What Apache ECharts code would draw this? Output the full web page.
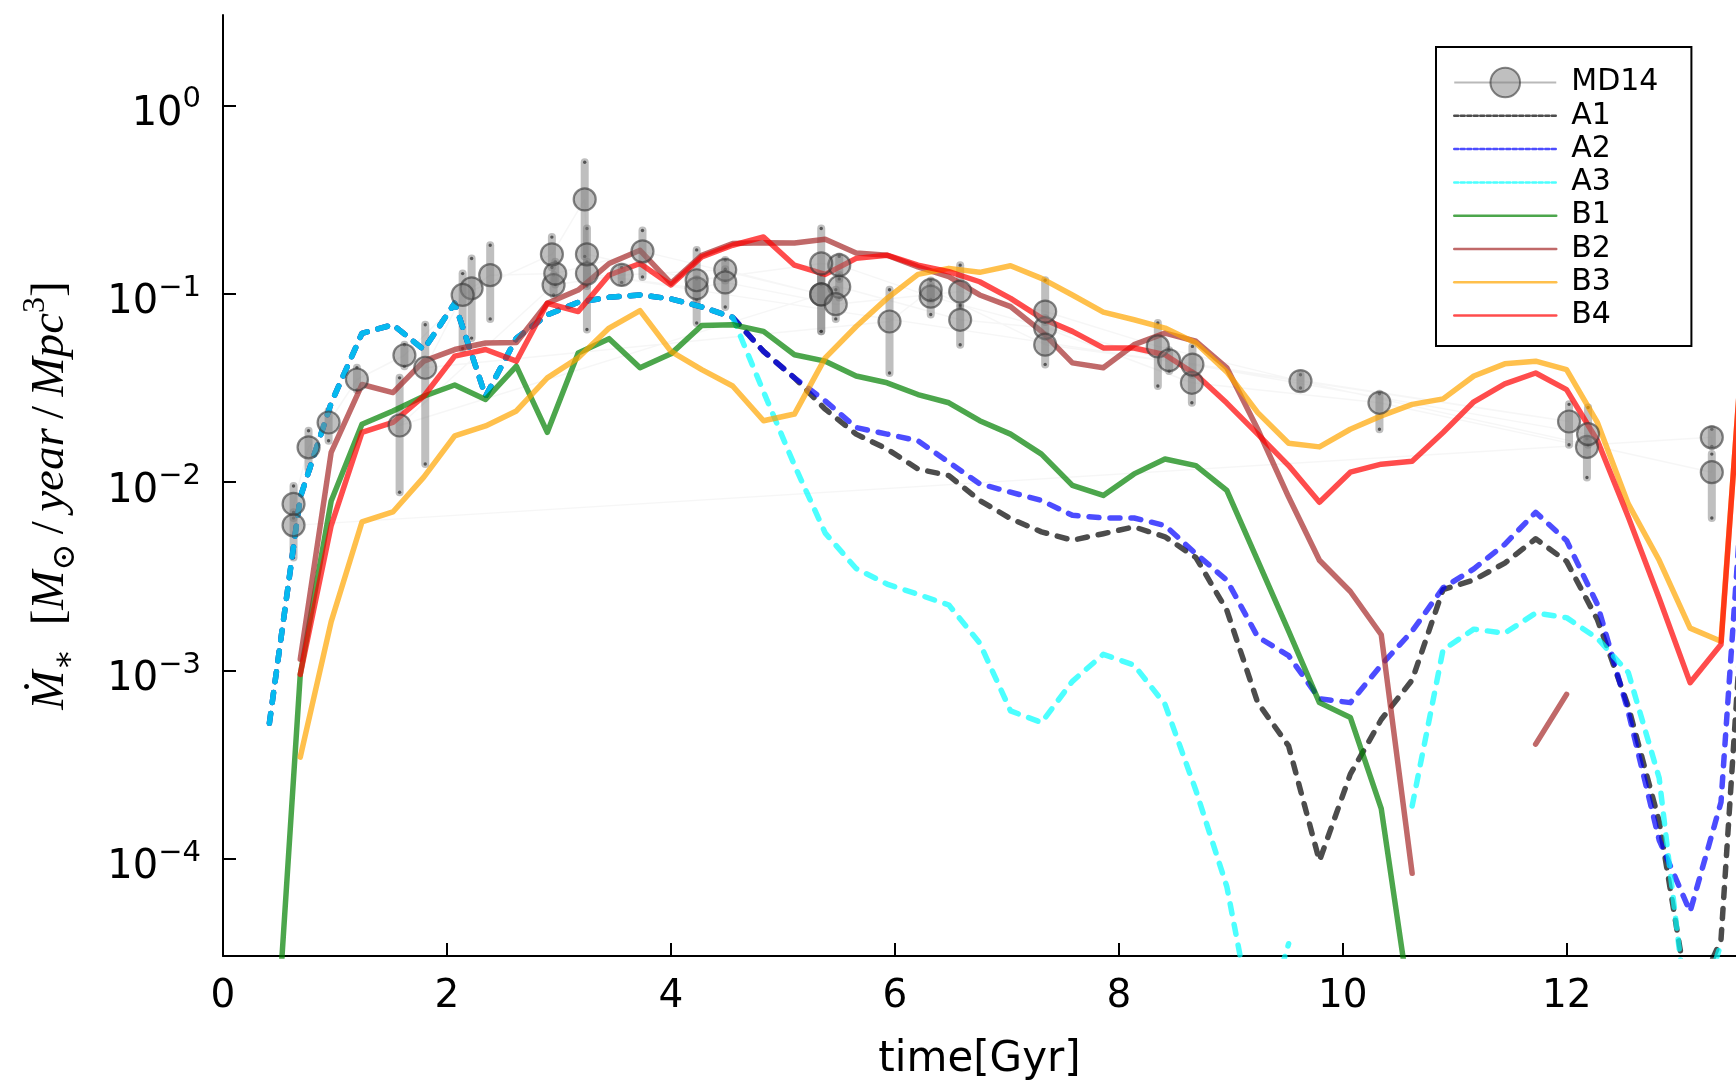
<!DOCTYPE html>
<html>
<head>
<meta charset="utf-8">
<script src="https://cdn.jsdelivr.net/npm/echarts@6/dist/echarts.min.js"></script>
<style>
  html, body { margin: 0; padding: 0; background: #ffffff; }
  #chart { width: 1736px; height: 1086px; }
</style>
</head>
<body>
<div id="chart"></div>
<script>
// Snapshot times of the simulation outputs [Gyr]
const times = [0.414, 0.690, 0.966, 1.241, 1.517, 1.793, 2.069, 2.345, 2.620, 2.896,
  3.172, 3.448, 3.724, 4.000, 4.275, 4.551, 4.827, 5.103, 5.378, 5.654,
  5.930, 6.206, 6.482, 6.757, 7.033, 7.309, 7.585, 7.861, 8.136, 8.412,
  8.688, 8.964, 9.240, 9.516, 9.791, 10.067, 10.343, 10.619, 10.895, 11.170,
  11.446, 11.722, 11.998, 12.274, 12.549, 12.825, 13.101, 13.377, 13.653];

// Star formation rate density per model [Msun / yr / Mpc^3]; null = no star formation
const rateA1 = [0.000525, 0.00832, 0.0263, 0.0617, 0.0685, 0.0506, 0.0891, 0.0286, 0.0582, 0.0773,
  0.0902, 0.0959, 0.0986, 0.0940, 0.0853, 0.0750, 0.0495, 0.0358, 0.0244, 0.0180,
  0.0150, 0.01175, 0.01084, 0.0080, 0.00641, 0.00545, 0.00492, 0.00533, 0.00579, 0.00513,
  0.00398, 0.00209, 0.000676, 0.000398, 0.0000977, 0.000282, 0.000550, 0.000891, 0.00269, 0.00303,
  0.00372, 0.00501, 0.0038, 0.00186, 0.000646, 0.000158, 0.0000158, 0.0000372, 0.0126];
const rateA2 = [0.000525, 0.00832, 0.0263, 0.0617, 0.0685, 0.0506, 0.0891, 0.0286, 0.0582, 0.0773,
  0.0902, 0.0959, 0.0986, 0.0940, 0.0853, 0.0750, 0.0495, 0.0358, 0.0270, 0.0195,
  0.0180, 0.0166, 0.01276, 0.0098, 0.00885, 0.0080, 0.00667, 0.00646, 0.00646, 0.00589,
  0.00417, 0.00302, 0.00151, 0.00120, 0.000708, 0.000676, 0.00107, 0.00162, 0.00275, 0.00347,
  0.00468, 0.00692, 0.0049, 0.00224, 0.000603, 0.000126, 0.0000525, 0.000200, 0.0501];
const rateA3 = [0.000525, 0.00832, 0.0263, 0.0617, 0.0685, 0.0506, 0.0891, 0.0286, 0.0582, 0.0773,
  0.0902, 0.0959, 0.0986, 0.0940, 0.0853, 0.0750, 0.0302, 0.0123, 0.00537, 0.00348,
  0.00288, 0.00254, 0.00223, 0.0014, 0.000611, 0.00053, 0.000877, 0.00122, 0.00107, 0.000662,
  0.000231, 0.0000714, 0.00001, 0.0000355, null, null, null, 0.000191, 0.00129, 0.00166,
  0.00158, 0.00202, 0.00191, 0.00148, 0.000977, 0.000269, 0.0000107, 0.0000355, null];
const rateB1 = [0.0000028, 0.000955, 0.00794, 0.0203, 0.0239, 0.0286, 0.0328, 0.0275, 0.0413, 0.0184,
  0.0485, 0.0578, 0.0405, 0.048, 0.0679, 0.0685, 0.0632, 0.0475, 0.0439, 0.0366,
  0.0337, 0.0292, 0.0264, 0.0212, 0.0180, 0.0141, 0.00962, 0.00851, 0.01107, 0.01327,
  0.01225, 0.00904, 0.00383, 0.00162, 0.000676, 0.000564, 0.000185, 0.0000141, null, null,
  null, null, null, null, null, null, null, null, null];
const rateB2 = [null, 0.00115, 0.0144, 0.033, 0.0299, 0.0439, 0.0506, 0.0548, 0.0552, 0.0891,
  0.1047, 0.1449, 0.1702, 0.1138, 0.1603, 0.1849, 0.1866, 0.1862, 0.195, 0.1648,
  0.1603, 0.139, 0.1233, 0.0986, 0.0855, 0.0632, 0.043, 0.0405, 0.0537, 0.0619,
  0.056, 0.0405, 0.0191, 0.00834, 0.00385, 0.00263, 0.00155, 0.0000839, null, null,
  null, 0.000407, 0.000748, null, null, null, null, null, null];
const rateB3 = [null, 0.000347, 0.00182, 0.00615, 0.00695, 0.01064, 0.0176, 0.0199, 0.0239, 0.0358,
  0.0457, 0.0658, 0.0815, 0.0495, 0.0396, 0.0324, 0.0212, 0.023, 0.0457, 0.0671,
  0.0946, 0.1268, 0.1365, 0.130, 0.141, 0.1208, 0.0986, 0.080, 0.0728, 0.0658,
  0.0548, 0.0385, 0.0234, 0.0161, 0.0154, 0.0191, 0.0225, 0.0259, 0.0277, 0.0366,
  0.0425, 0.0439, 0.0396, 0.0207, 0.00767, 0.00385, 0.00168, 0.00143, 0.251];
const rateB4 = [null, 0.000955, 0.00589, 0.01837, 0.02075, 0.0286, 0.0467, 0.0506, 0.0439, 0.0891,
  0.0805, 0.1259, 0.1449, 0.1114, 0.157, 0.1811, 0.2004, 0.1419, 0.1268, 0.1542,
  0.1603, 0.1419, 0.131, 0.1159, 0.0946, 0.0743, 0.0632, 0.0516, 0.0516, 0.0475,
  0.0373, 0.0263, 0.0180, 0.01225, 0.00783, 0.0113, 0.01247, 0.01291, 0.01837, 0.02673,
  0.0333, 0.038, 0.031, 0.0166, 0.00653, 0.00242, 0.000863, 0.001374, 0.263];

// Madau & Dickinson (2014) compilation, converted to cosmic time
const mdTime = [12.180, 10.327, 8.652, 7.342, 6.583, 5.503, 5.342, 4.485, 3.560, 2.952,
  1.577, 5.342, 3.746, 2.967, 2.386, 2.220, 1.620, 1.196, 0.943, 0.764, 0.630, 0.630,
  13.295, 13.295, 9.622, 8.348, 7.342, 6.583, 5.472, 4.485, 4.230, 3.250,
  12.020, 8.449, 6.320, 5.503, 5.342, 4.230, 3.250, 3.230, 2.937, 2.140, 1.806, 5.952,
  6.320, 7.342, 8.657, 12.190];
const mdRate = [0.0154, 0.0264, 0.0337, 0.0658, 0.0728, 0.109, 0.0993, 0.134, 0.126, 0.1114,
  0.0200, 0.0993, 0.168, 0.128, 0.1256, 0.107, 0.0472, 0.0351, 0.02075, 0.01531, 0.00767, 0.00590,
  0.0173, 0.0113, 0.0344, 0.0526, 0.0805, 0.1028, 0.0881, 0.115, 0.107, 0.128,
  0.0210, 0.0444, 0.0966, 0.142, 0.145, 0.118, 0.162, 0.317, 0.162, 0.0986, 0.0405, 0.0713,
  0.105, 0.0537, 0.0421, 0.0180];
const mdLow = [0.0106, 0.0191, 0.0264, 0.0589, 0.0537, 0.0955, 0.0632, 0.1175, 0.115, 0.0986,
  0.00885, 0.0632, 0.123, 0.112, 0.0736, 0.0582, 0.0413, 0.0309, 0.0166, 0.01175, 0.00646, 0.00398,
  0.0155, 0.00646, 0.0316, 0.0324, 0.0708, 0.0871, 0.0736, 0.0851, 0.0933, 0.110,
  0.0158, 0.0389, 0.0776, 0.120, 0.112, 0.070, 0.0646, 0.158, 0.138, 0.0513, 0.0125, 0.038,
  0.0933, 0.0422, 0.0372, 0.0158];
const mdHigh = [0.0170, 0.0295, 0.038, 0.0741, 0.0851, 0.126, 0.126, 0.151, 0.138, 0.126,
  0.0358, 0.126, 0.217, 0.148, 0.181, 0.154, 0.0537, 0.0405, 0.02388, 0.01875, 0.00955, 0.00692,
  0.0191, 0.0141, 0.0372, 0.070, 0.118, 0.142, 0.105, 0.135, 0.120, 0.148,
  0.0259, 0.0501, 0.110, 0.158, 0.222, 0.171, 0.222, 0.499, 0.200, 0.128, 0.0685, 0.105,
  0.1175, 0.0603, 0.0526, 0.0249];

// Axis ticks
const xTicks = [0, 2, 4, 6, 8, 10, 12];
const yTicks = [1e-4, 1e-3, 1e-2, 1e-1, 1];
const yTickExp = ['\u22124', '\u22123', '\u22122', '\u22121', '0'];

const FONT = "'DejaVu Sans', 'Noto Sans', sans-serif";
const SERIF = "'Liberation Serif', 'DejaVu Serif', serif";

const pairs = arr => times.map((t, i) => [t, arr[i] == null ? '-' : arr[i]]);

const DASH = [10, 11];
function modelLine(name, data, color, dashed) {
  return {
    name: name,
    type: 'line',
    data: pairs(data),
    symbol: 'none',
    connectNulls: false,
    silent: true,
    clip: true,
    lineStyle: { color: color, width: 5.5, opacity: 0.7, type: dashed ? DASH : 'solid', cap: 'round', join: 'round' }
  };
}

const chart = echarts.init(document.getElementById('chart'), null, { renderer: 'canvas' });

const option = {
  animation: false,
  backgroundColor: '#ffffff',
  grid: { left: 223, right: 0, top: 15, bottom: 124, containLabel: false },
  xAxis: {
    type: 'value',
    min: 0,
    max: 13.511,
    name: 'time[Gyr]',
    nameLocation: 'middle',
    nameGap: 83,
    nameTextStyle: { fontFamily: FONT, fontSize: 42, color: '#000' },
    axisLine: { show: true, onZero: false, lineStyle: { color: '#000', width: 2 } },
    axisTick: { show: true, inside: true, length: 13, customValues: xTicks, lineStyle: { color: '#000', width: 2 } },
    axisLabel: { customValues: xTicks, margin: 21, fontFamily: FONT, fontSize: 39, color: '#000' },
    splitLine: { show: false }
  },
  yAxis: {
    type: 'log',
    logBase: 10,
    min: 3.055e-5,
    max: 3.02,
    name: '{i|\u1E40}{sub|\u2217}{u|\u2002[}{i|M}{sub|\u2299}{u|\u2009/\u2009}{i|year}{u|\u2009/\u2009}{i|Mpc}{sup|3}{u|]}',
    nameLocation: 'middle',
    nameRotate: 90,
    nameGap: 141,
    nameTextStyle: {
      color: '#000',
      padding: [0, 20, 0, 0],
      rich: {
        i: { fontFamily: SERIF, fontStyle: 'italic', fontSize: 47, lineHeight: 62, color: '#000' },
        u: { fontFamily: SERIF, fontSize: 47, lineHeight: 62, color: '#000' },
        sub: { fontFamily: SERIF, fontSize: 32, lineHeight: 32, verticalAlign: 'bottom', color: '#000' },
        sup: { fontFamily: SERIF, fontSize: 32, lineHeight: 32, verticalAlign: 'top', color: '#000' }
      }
    },
    axisLine: { show: true, lineStyle: { color: '#000', width: 2 } },
    axisTick: { show: true, inside: true, length: 13, customValues: yTicks, lineStyle: { color: '#000', width: 2 } },
    axisLabel: {
      customValues: yTicks,
      margin: 22,
      formatter: function (v) {
        const k = Math.round(Math.log10(v)) + 4;
        return '{b|10}{e|' + yTickExp[k] + '}';
      },
      rich: {
        b: { fontFamily: FONT, fontSize: 40, lineHeight: 40, padding: [18, 0, 0, 0], color: '#000' },
        e: { fontFamily: FONT, fontSize: 29, lineHeight: 29, verticalAlign: 'top', color: '#000' }
      }
    },
    splitLine: { show: false }
  },
  legend: {
    orient: 'vertical',
    left: 1436,
    top: 47,
    padding: [17, 33, 12, 17],
    itemWidth: 102,
    itemHeight: 37,
    itemGap: -3.7,
    borderColor: '#000',
    borderWidth: 2,
    backgroundColor: '#ffffff',
    selectedMode: false,
    textStyle: { fontFamily: FONT, fontSize: 30, lineHeight: 37, color: '#000', padding: [0, 0, 0, 10] },
    data: [
      { name: 'MD14', lineStyle: { color: 'rgba(128,128,128,0.55)', width: 2 } },
      { name: 'A1', lineStyle: { type: [4, 2.5], width: 2.5 }, itemStyle: { opacity: 0 } },
      { name: 'A2', lineStyle: { type: [4, 2.5], width: 2.5 }, itemStyle: { opacity: 0 } },
      { name: 'A3', lineStyle: { type: [4, 2.5], width: 2.5 }, itemStyle: { opacity: 0 } },
      { name: 'B1', lineStyle: { width: 2.5 }, itemStyle: { opacity: 0 } },
      { name: 'B2', lineStyle: { width: 2.5 }, itemStyle: { opacity: 0 } },
      { name: 'B3', lineStyle: { width: 2.5 }, itemStyle: { opacity: 0 } },
      { name: 'B4', lineStyle: { width: 2.5 }, itemStyle: { opacity: 0 } }
    ]
  },
  series: [
    {
      name: 'MD14 error',
      type: 'custom',
      silent: true,
      data: mdTime.map((t, i) => [t, mdLow[i], mdHigh[i]]),
      encode: { x: 0, y: [1, 2] },
      renderItem: function (params, api) {
        const t = api.value(0);
        const p1 = api.coord([t, api.value(1)]);
        const p2 = api.coord([t, api.value(2)]);
        return {
          type: 'group',
          children: [
            { type: 'line', shape: { x1: p1[0], y1: p1[1], x2: p2[0], y2: p2[1] },
              style: { stroke: 'rgba(128,128,128,0.5)', lineWidth: 8, lineCap: 'round' } },
            { type: 'circle', shape: { cx: p1[0], cy: p1[1], r: 1.7 }, style: { fill: 'rgba(50,50,50,0.75)' } },
            { type: 'circle', shape: { cx: p2[0], cy: p2[1], r: 1.7 }, style: { fill: 'rgba(50,50,50,0.75)' } }
          ]
        };
      }
    },
    {
      name: 'MD14',
      type: 'line',
      silent: true,
      data: mdTime.map((t, i) => [t, mdRate[i]]),
      symbol: 'circle',
      symbolSize: 22,
      showSymbol: true,
      lineStyle: { color: 'rgba(128,128,128,0.07)', width: 1.5 },
      itemStyle: { color: 'rgba(128,128,128,0.5)', borderColor: 'rgba(55,55,55,0.6)', borderWidth: 2.2 }
    },
    modelLine('A1', rateA1, '#000000', true),
    modelLine('A2', rateA2, '#0000ff', true),
    modelLine('A3', rateA3, '#00ffff', true),
    modelLine('B1', rateB1, '#008000', false),
    modelLine('B2', rateB2, '#a52a2a', false),
    modelLine('B3', rateB3, '#ffa500', false),
    modelLine('B4', rateB4, '#ff0000', false)
  ]
};

chart.setOption(option);
</script>
</body>
</html>
